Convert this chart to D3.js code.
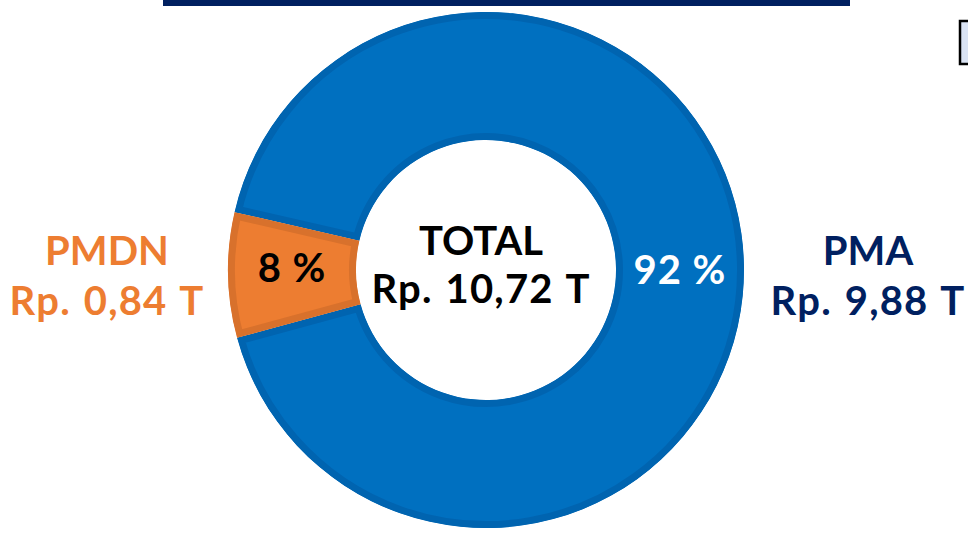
<!DOCTYPE html>
<html>
<head>
<meta charset="utf-8">
<script src="https://cdn.jsdelivr.net/npm/d3@7"></script>
<style>
  html, body { margin: 0; padding: 0; background: #fff; }
  svg { display: block; }
</style>
</head>
<body>
<svg width="968" height="533"></svg>
<script>
// Data
const categories = ['PMA', 'PMDN'];
const values = [9.88, 0.84];            // triliun rupiah
const percentLabels = ['92 %', '8 %'];
const valueLabels = ['Rp. 9,88 T', 'Rp. 0,84 T'];
const totalLabel = ['TOTAL', 'Rp. 10,72 T'];

const fillColors = ['#0070C0', '#ED7D31'];
const edgeColors = ['#0064B0', '#D8712C'];
const labelColors = ['#002060', '#ED7D31'];
const pctColors = ['#ffffff', '#000000'];
const pctDy = [18, 8];

const fontFamily = 'Lato, "Open Sans", sans-serif';

const svg = d3.select('svg');

// Top navy rule and small box at the right edge
svg.append('rect')
  .attr('x', 163).attr('y', 0)
  .attr('width', 687).attr('height', 6)
  .attr('fill', '#002060');

svg.append('rect')
  .attr('x', 960).attr('y', 21)
  .attr('width', 12).attr('height', 43)
  .attr('fill', '#DAE3F3')
  .attr('stroke', '#000').attr('stroke-width', 2.5);

const cx = 486, cy = 270;
const outerR = 258, innerR = 130;

const g = svg.append('g')
  .attr('transform', `translate(${cx}, ${cy})`);

// PMDN slice centered on the left side (tilted a touch downward)
const total = d3.sum(values);
const spanSmall = 2 * Math.PI * values[1] / total;
const start = -Math.PI / 2 + spanSmall / 2 - 0.02;

const pie = d3.pie()
  .sort(null)
  .value(d => d)
  .startAngle(start)
  .endAngle(start + 2 * Math.PI);

const arcs = pie(values);

const arcGen = d3.arc()
  .innerRadius(innerR)
  .outerRadius(outerR);

// Clip each slice to itself so the stroke turns into an inner darker edge
const defs = svg.append('defs');
arcs.forEach((d, i) => {
  defs.append('clipPath')
    .attr('id', `clip-${i}`)
    .append('path')
    .attr('d', arcGen(d));
});

g.selectAll('path.slice')
  .data(arcs)
  .join('path')
    .attr('class', 'slice')
    .attr('d', arcGen)
    .attr('fill', (d, i) => fillColors[i])
    .attr('stroke', (d, i) => edgeColors[i])
    .attr('stroke-width', 14)
    .attr('clip-path', (d, i) => `url(#clip-${i})`);

// Percent labels at the slice centroids
g.selectAll('text.pct')
  .data(arcs)
  .join('text')
    .attr('class', 'pct')
    .attr('x', d => arcGen.centroid(d)[0])
    .attr('y', (d, i) => arcGen.centroid(d)[1] + pctDy[i])
    .attr('text-anchor', 'middle')
    .attr('font-family', fontFamily)
    .attr('font-weight', 700)
    .attr('font-size', 40)
    .attr('letter-spacing', 1)
    .attr('fill', (d, i) => pctColors[i])
    .text((d, i) => percentLabels[i]);

// Total in the hole
g.selectAll('text.total')
  .data(totalLabel)
  .join('text')
    .attr('class', 'total')
    .attr('x', -5)
    .attr('y', (d, i) => -15 + i * 48)
    .attr('text-anchor', 'middle')
    .attr('font-family', fontFamily)
    .attr('font-weight', 700)
    .attr('font-size', 40)
    .attr('letter-spacing', (d, i) => i ? 1.2 : 0)
    .attr('word-spacing', (d, i) => i ? 2 : 0)
    .attr('fill', '#000')
    .text(d => d);

// Category labels either side
const sideX = [868, 107];
categories.forEach((c, i) => {
  const t = svg.append('text')
    .attr('text-anchor', 'middle')
    .attr('font-family', fontFamily)
    .attr('font-weight', 700)
    .attr('font-size', 40)
    .attr('fill', labelColors[i]);
  t.append('tspan').attr('x', sideX[i]).attr('y', 265).text(c);
  t.append('tspan').attr('x', sideX[i]).attr('y', 315)
    .attr('letter-spacing', 1.2)
    .attr('word-spacing', 2)
    .text(valueLabels[i]);
});
</script>
</body>
</html>
